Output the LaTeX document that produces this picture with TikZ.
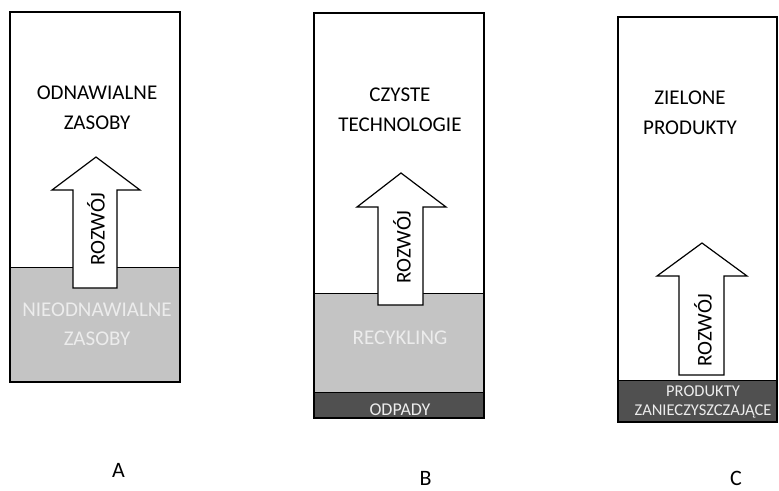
\documentclass[tikz,border=0pt]{standalone}
\usepackage{fontspec}
\setmainfont{Carlito}
\definecolor{lightg}{HTML}{C4C4C4}
\definecolor{darkg}{HTML}{505050}
\definecolor{txtg}{HTML}{ECECEC}
\begin{document}
\begin{tikzpicture}[x=1pt,y=-1pt,
  frame/.style={draw=black,line width=1.2pt},
  band/.style={draw=black,line width=1pt},
  lbl/.style={font=\fontsize{21}{30}\selectfont,align=center,text=black},
  glbl/.style={font=\fontsize{21}{29}\selectfont,align=center,text=txtg},
  arrowbox/.style={draw=black,fill=white,line width=1.2pt},
  rozw/.style={font=\fontsize{21}{25}\selectfont,rotate=90},
  letter/.style={font=\fontsize{22}{26}\selectfont,anchor=base,inner sep=0pt}]
\useasboundingbox (0,0) rectangle (779,490);
% ---------- A ----------
\fill[lightg] (10,267) rectangle (180,382);
\draw[band] (10,267) -- (180,267);
\draw[frame] (10,12) rectangle (180,382);
\node[lbl] (aTop) at (97,108) {ODNAWIALNE\\ZASOBY};
\node[glbl] (aBot) at (97,324) {NIEODNAWIALNE\\ZASOBY};
\draw[arrowbox] (73,288) -- (73,190) -- (52,190) -- (96,157) -- (140,190) -- (117,190) -- (117,288) -- cycle;
\node[rozw] (aR) at (96,229) {ROZWÓJ};
\node[letter] (aL) at (118.5,477) {A};
% ---------- B ----------
\fill[lightg] (314,293) rectangle (484,392);
\fill[darkg] (314,392) rectangle (484,418);
\draw[band] (314,293) -- (484,293);
\draw[band] (314,392) -- (484,392);
\draw[frame] (314,13) rectangle (484,418);
\node[lbl] (bTop) at (400,110) {CZYSTE\\TECHNOLOGIE};
\node[glbl] (bMid) at (400,338) {RECYKLING};
\node[font=\fontsize{18}{21}\selectfont,text=txtg] (bBot) at (400,410) {ODPADY};
\draw[arrowbox] (378,305) -- (378,207) -- (357,207) -- (401,173) -- (446,207) -- (423,207) -- (423,305) -- cycle;
\node[rozw] (bR) at (402,247) {ROZWÓJ};
\node[letter] (bL) at (425.5,485) {B};
% ---------- C ----------
\fill[darkg] (618,380) rectangle (777,422);
\draw[band] (618,380) -- (777,380);
\draw[frame] (618,17) rectangle (777,422);
\node[lbl] (cTop) at (690,113) {ZIELONE\\PRODUKTY};
\node[font=\fontsize{16.5}{19}\selectfont,align=center,text=txtg] (cBot) at (703,402) {PRODUKTY\\ZANIECZYSZCZAJĄCE};
\draw[arrowbox] (679,375) -- (679,276) -- (657,276) -- (702,243) -- (747,276) -- (724,276) -- (724,375) -- cycle;
\node[rozw] (cR) at (703,330) {ROZWÓJ};
\node[letter] (cL) at (736,485) {C};
\end{tikzpicture}
\end{document}
